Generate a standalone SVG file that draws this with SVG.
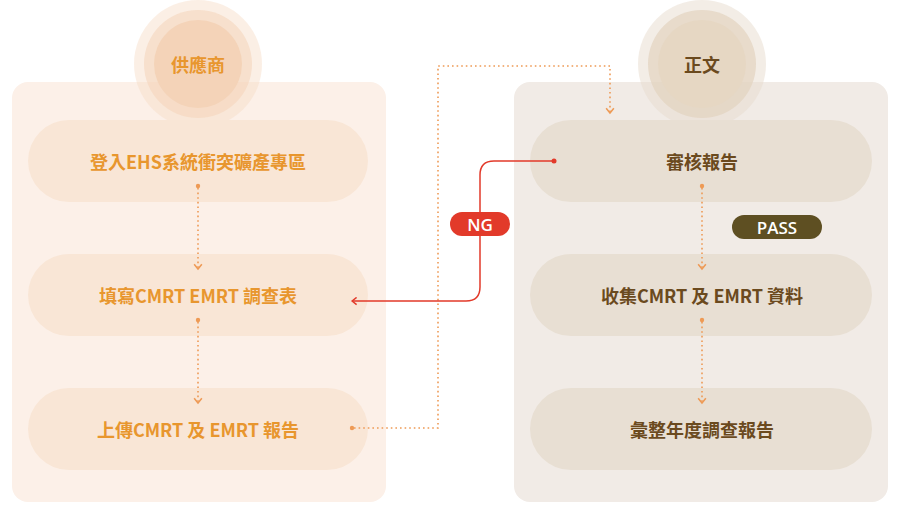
<svg xmlns="http://www.w3.org/2000/svg" width="900" height="512" viewBox="0 0 900 512">
<style>
text{font-family:"Noto Sans CJK TC","Noto Sans",sans-serif;font-weight:bold;text-anchor:middle;dominant-baseline:central}
.lt{fill:#e8962e;font-size:18px}.rt{fill:#6b4a1e;font-size:18px}
.lp{fill:#f9e6d6}.rp{fill:#e8dfd3}
.dot{fill:none;stroke:#ee9a55;stroke-width:1.6;stroke-dasharray:1.6 3}
</style>
<defs>
<marker id="ao" viewBox="0 0 10 10" refX="5" refY="5" markerWidth="6" markerHeight="6" orient="auto"><path d="M1,1L6,5L1,9" fill="none" stroke="#ee9a55" stroke-width="1.6"/></marker>
<marker id="ar" viewBox="0 0 10 10" refX="5" refY="5" markerWidth="6" markerHeight="6" orient="auto"><path d="M1,1L6,5L1,9" fill="none" stroke="#e23a2a" stroke-width="1.6"/></marker>
</defs>
<rect x="12" y="82" width="374" height="420" rx="16" fill="#fcf0e8"/>
<rect x="514" y="82" width="374" height="420" rx="16" fill="#f1ebe6"/>
<g id="supplier"><circle cx="198" cy="64" r="64" fill="#f7dcc6" opacity="0.45"/><circle cx="198" cy="64" r="54" fill="#f5d6bd" opacity="0.6"/><circle cx="198" cy="64" r="44" fill="#f4d3b8"/><text class="lt" x="198" y="64">供應商</text></g>
<g id="zhengwen"><circle cx="702" cy="64" r="64" fill="#e8dccd" opacity="0.5"/><circle cx="702" cy="64" r="54" fill="#e3d3bf" opacity="0.7"/><circle cx="702" cy="64" r="44" fill="#e6d7c3"/><text class="rt" x="702" y="64">正文</text></g>
<g id="l1"><rect class="lp" x="28" y="120" width="340" height="82" rx="41"/><text class="lt" x="198" y="161">登入EHS系統衝突礦產專區</text></g>
<g id="l2"><rect class="lp" x="28" y="254" width="340" height="82" rx="41"/><text class="lt" x="198" y="295">填寫CMRT EMRT 調查表</text></g>
<g id="l3"><rect class="lp" x="28" y="388" width="340" height="82" rx="41"/><text class="lt" x="198" y="429">上傳CMRT 及 EMRT 報告</text></g>
<g id="r1"><rect class="rp" x="530" y="120" width="342" height="82" rx="41"/><text class="rt" x="702" y="161">審核報告</text></g>
<g id="r2"><rect class="rp" x="530" y="254" width="342" height="82" rx="41"/><text class="rt" x="702" y="295">收集CMRT 及 EMRT 資料</text></g>
<g id="r3"><rect class="rp" x="530" y="388" width="342" height="82" rx="41"/><text class="rt" x="702" y="429">彙整年度調查報告</text></g>
<g id="connectors">
<circle cx="198" cy="186" r="2.2" fill="#ee9a55"/><path class="dot" d="M198,188V268" marker-end="url(#ao)"/>
<circle cx="198" cy="320" r="2.2" fill="#ee9a55"/><path class="dot" d="M198,322V402" marker-end="url(#ao)"/>
<circle cx="702" cy="186" r="2.2" fill="#ee9a55"/><path class="dot" d="M702,188V268" marker-end="url(#ao)"/>
<circle cx="702" cy="320" r="2.2" fill="#ee9a55"/><path class="dot" d="M702,322V402" marker-end="url(#ao)"/>
<circle cx="352" cy="428" r="2.2" fill="#ee9a55"/><path class="dot" d="M354,428H438V66H610V112" marker-end="url(#ao)"/>
<circle cx="554" cy="161" r="2.5" fill="#e23a2a"/>
<path d="M554,161H494Q480,161 480,175V287Q480,301 466,301H353" fill="none" stroke="#e23a2a" stroke-width="1.5" marker-end="url(#ar)"/>
<rect x="450" y="212" width="60" height="24" rx="12" fill="#e23a2a"/><text x="480" y="224" fill="#fff" font-size="17" style="font-family:'Open Sans',sans-serif;font-weight:600">NG</text>
<rect x="732" y="215" width="90" height="24" rx="12" fill="#5e4f22"/><text x="777" y="227" fill="#fff" font-size="17" style="font-family:'Open Sans',sans-serif;font-weight:600">PASS</text>
</g>
</svg>
